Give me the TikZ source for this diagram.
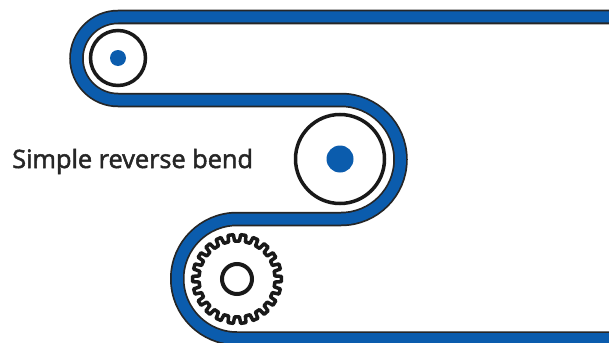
\documentclass[tikz,border=0pt]{standalone}
\usepackage{fontspec}
\newfontfamily\labelfont[FakeBold=2]{Open Sans}
\definecolor{beltblue}{HTML}{0B5CAD}
\tikzset{
  beltedge/.style={black!85,line width=14.5bp},
  beltfill/.style={beltblue,line width=11bp},
  pulley/.style={draw=black!90,line width=3.5bp,fill=white},
  hub/.style={fill=beltblue},
}
\begin{document}
\begin{tikzpicture}[x=1bp,y=1bp]
\path[use as bounding box] (0,0) rectangle (609,342);
\clip (0,0) rectangle (609,342);
\fill[white] (0,0) rectangle (609,342);
% belt
\def\beltpath{(620,325)--(118,325) arc (90:270:41.5)--(341,242) arc (90:-90:59.5)--(237,123) arc (90:270:59.75)--(620,3.5)}
\draw[beltedge] \beltpath;
\draw[beltfill] \beltpath;
% pulleys
\draw[pulley] (118,284) circle (27.5);
\fill[hub] (118,284) circle (8);
\draw[pulley] (340,183) circle (44.5);
\fill[hub] (340,183) circle (13.5);
% sprocket
\draw[pulley,line join=round,shift={(237,63)}] (-4.6:38)
  \foreach \n in {0,...,21} {
    -- (\n*16.3636-4.6:38) -- (\n*16.3636-3.4:44.5) -- (\n*16.3636+3.4:44.5) -- (\n*16.3636+4.6:38)
  } -- cycle;
\draw[pulley,line width=4bp,fill=none] (237,63) circle (15);
\node[anchor=base west,font=\labelfont\fontsize{25.4}{29}\selectfont,text=black!85,inner sep=0pt] (bendlabel) at (12,174) {Simple reverse bend};
\end{tikzpicture}
\end{document}
